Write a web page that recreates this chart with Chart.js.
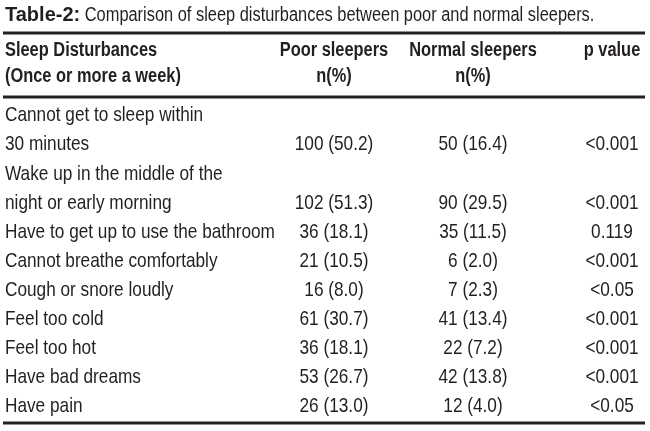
<!DOCTYPE html>
<html>
<head>
<meta charset="utf-8">
<title>Table-2: Comparison of sleep disturbances between poor and normal sleepers</title>
<script src="https://cdn.jsdelivr.net/npm/chart.js@4.4.1/dist/chart.umd.min.js"></script>
<style>
  html, body { margin: 0; padding: 0; background: #fff; }
  #wrap { width: 650px; height: 431px; position: relative; }
</style>
</head>
<body>
<div id="wrap"><canvas id="table2"></canvas></div>
<script>
// Table values
const disturbances = [
    ['Cannot get to sleep within', '30 minutes'],
    ['Wake up in the middle of the', 'night or early morning'],
    ['Have to get up to use the bathroom'],
    ['Cannot breathe comfortably'],
    ['Cough or snore loudly'],
    ['Feel too cold'],
    ['Feel too hot'],
    ['Have bad dreams'],
    ['Have pain']
];
const poorCount = [100, 102, 36, 21, 16, 61, 36, 53, 26];
const poorPct = [50.2, 51.3, 18.1, 10.5, 8.0, 30.7, 18.1, 26.7, 13.0];
const normalCount = [50, 90, 35, 6, 7, 41, 22, 42, 12];
const normalPct = [16.4, 29.5, 11.5, 2.0, 2.3, 13.4, 7.2, 13.8, 4.0];
const pValues = ['<0.001', '<0.001', '0.119', '<0.001', '<0.05', '<0.001', '<0.001', '<0.001', '<0.05'];

const columns = ['Poor sleepers', 'Normal sleepers', 'p value'];
const columnSub = ['n(%)', 'n(%)', ''];
const rowHeader = ['Sleep Disturbances', '(Once or more a week)'];
const titleBold = 'Table-2:';
const titleText = ' Comparison of sleep disturbances between poor and normal sleepers.';

// look
const ink = '#231f20';
const family = "'Liberation Sans', Arial, sans-serif";
const narrow = 0.82;          // the print face is a condensed one
const labelColumnWidth = 329;

// one category per printed text line; a row's numbers sit on its last line
const lines = [];
const valueLine = [];
disturbances.forEach(row => {
    row.forEach(l => lines.push(l));
    valueLine.push(row[row.length - 1]);
});

const cellText = [
    poorCount.map((n, i) => `${n} (${poorPct[i].toFixed(1)})`),
    normalCount.map((n, i) => `${n} (${normalPct[i].toFixed(1)})`),
    pValues
];

// condensed text
function putText(ctx, str, x, y, align, font, squeeze = narrow) {
    ctx.save();
    ctx.font = font;
    ctx.textAlign = align;
    ctx.textBaseline = 'middle';
    ctx.translate(x, y);
    ctx.scale(squeeze, 1);
    ctx.fillText(str, 0, 0);
    ctx.restore();
}

// row labels at the y ticks, and the text of every cell at its point
const cellLabels = {
    id: 'cellLabels',
    afterDatasetsDraw(chart) {
        const ctx = chart.ctx;
        const ys = chart.scales.y;
        ctx.save();
        ctx.fillStyle = ink;
        ys.ticks.forEach((t, i) => {
            putText(ctx, lines[t.value], ys.left, ys.getPixelForTick(i), 'left', `21px ${family}`);
        });
        chart.data.datasets.forEach((ds, d) => {
            chart.getDatasetMeta(d).data.forEach((pt, i) => {
                putText(ctx, ds.cellText[i], pt.x, pt.y, 'center', `21px ${family}`);
            });
        });
        ctx.restore();
    }
};

// title, column headers and the three rules
const tableFrame = {
    id: 'tableFrame',
    afterDraw(chart) {
        const ctx = chart.ctx;
        const area = chart.chartArea;
        const xs = chart.scales.x;
        const ys = chart.scales.y;
        const ruleLeft = 3;
        const ruleRight = chart.width - 5;
        ctx.save();
        ctx.fillStyle = ink;

        // title: bold label, then the caption
        const titleY = area.top - 86;
        putText(ctx, titleBold, ys.left, titleY, 'left', `bold 20px ${family}`, 1);
        ctx.font = `bold 20px ${family}`;
        const w = ctx.measureText(titleBold).width;
        putText(ctx, titleText, ys.left + w, titleY, 'left', `20px ${family}`);

        // header
        const hf = `bold 20px ${family}`;
        rowHeader.forEach((t, i) => putText(ctx, t, ys.left, area.top - 51 + i * 26, 'left', hf));
        columns.forEach((c, i) => {
            const x = xs.getPixelForValue(i);
            putText(ctx, c, x, area.top - 51, 'center', hf);
            putText(ctx, columnSub[i], x, area.top - 25, 'center', hf);
        });

        // rules
        ctx.strokeStyle = ink;
        ctx.lineWidth = 2.8;
        [area.top - 68, area.top - 4, area.bottom + 2].forEach(y => {
            ctx.beginPath();
            ctx.moveTo(ruleLeft, y);
            ctx.lineTo(ruleRight, y);
            ctx.stroke();
        });
        ctx.restore();
    }
};

const ctx = document.getElementById('table2').getContext('2d');
const table = new Chart(ctx, {
    type: 'line',
    data: {
        datasets: columns.map((col, c) => ({
            label: col,
            data: valueLine.map(line => ({ x: col, y: line })),
            cellText: cellText[c],
            showLine: false,
            pointRadius: 0,
            pointHoverRadius: 0
        }))
    },
    options: {
        responsive: true,
        maintainAspectRatio: false,
        animation: false,
        events: [],
        layout: { padding: { left: 5, right: 38, top: 101, bottom: 10 } },
        plugins: {
            legend: { display: false },
            tooltip: { enabled: false }
        },
        scales: {
            x: {
                type: 'category',
                labels: columns,
                offset: false,
                display: false
            },
            y: {
                type: 'category',
                labels: lines,
                offset: true,
                grid: { display: false, drawTicks: false },
                border: { display: false },
                ticks: { display: false, autoSkip: false },
                afterFit: scale => { scale.width = labelColumnWidth; }
            }
        }
    },
    plugins: [cellLabels, tableFrame]
});
</script>
</body>
</html>
